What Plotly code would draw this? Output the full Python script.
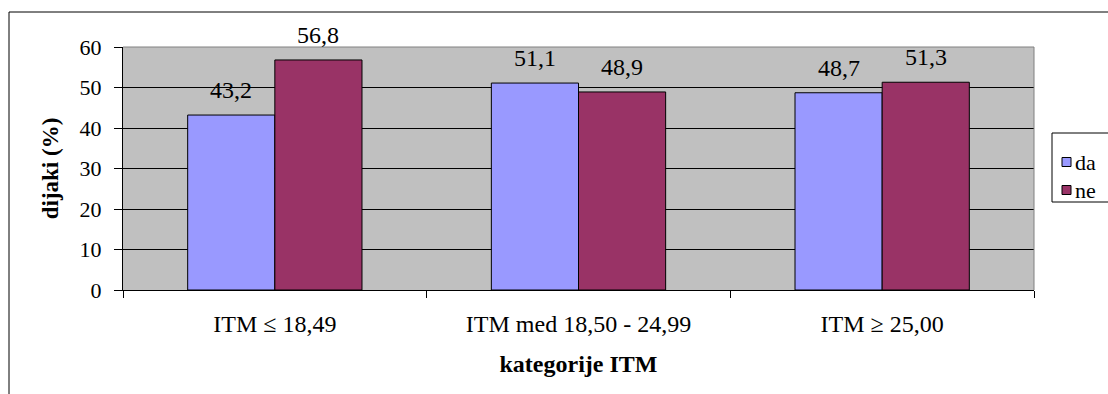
import plotly.graph_objects as go

categories = ["ITM ≤ 18,49", "ITM med 18,50 - 24,99", "ITM ≥ 25,00"]
da_values = [43.2, 51.1, 48.7]
ne_values = [56.8, 48.9, 51.3]
y_ticks = [0, 10, 20, 30, 40, 50, 60]
series = [("da", da_values, "#9999FF"), ("ne", ne_values, "#993366")]

FONT = "'Times New Roman', 'Liberation Serif', 'DejaVu Serif', serif"

# plot area in pixels
L, R, T, B = 123, 1034, 47, 290
W, H = 1108, 394
BAR_PX = 87  # rendered width of one bar


def px_x(px):
    return (px - L) / (R - L)


def px_y(py):
    return (B - py) / (B - T)


def fmt(v):
    return f"{v:.1f}".replace(".", ",")


fig = go.Figure()
for name, vals, color in series:
    fig.add_trace(go.Bar(
        name=name, x=categories, y=vals,
        marker=dict(color=color, line=dict(color="black", width=1)),
        showlegend=False,
    ))

# value labels above each bar
for i, (name, vals, color) in enumerate(series):
    shift = (i - 0.5) * BAR_PX
    for cat, v in zip(categories, vals):
        fig.add_annotation(
            x=cat, y=v, xref="x", yref="y", text=fmt(v), showarrow=False,
            xshift=shift, yshift=25, yanchor="middle",
            font=dict(family=FONT, size=24, color="black"),
        )

# outer chart frame (runs past the right and bottom edges)
frame = dict(type="line", xref="paper", yref="paper",
             line=dict(color="black", width=1), layer="above")
fig.add_shape(**frame, x0=px_x(9), y0=px_y(12), x1=px_x(W + 20), y1=px_y(12))
fig.add_shape(**frame, x0=px_x(9), y0=px_y(12), x1=px_x(9), y1=px_y(H + 20))
# plot-area border on top and right
fig.add_shape(type="line", xref="paper", yref="paper", x0=0, y0=1, x1=1, y1=1,
              line=dict(color="#808080", width=1))
fig.add_shape(type="line", xref="paper", yref="paper", x0=1, y0=0, x1=1, y1=1,
              line=dict(color="#808080", width=1))

# legend box, cut by the right edge of the chart
fig.add_shape(type="rect", xref="paper", yref="paper",
              x0=px_x(1052), y0=px_y(133), x1=px_x(W + 20), y1=px_y(202),
              line=dict(color="black", width=1), fillcolor="white")
for j, (name, vals, color) in enumerate(series):
    cy = 162 + j * 28
    fig.add_shape(type="rect", xref="paper", yref="paper",
                  x0=px_x(1062), y0=px_y(cy - 4.5), x1=px_x(1071), y1=px_y(cy + 4.5),
                  line=dict(color="black", width=1), fillcolor=color)
    fig.add_annotation(x=px_x(1073), y=px_y(cy), xref="paper", yref="paper",
                       text=name, showarrow=False, xanchor="left", yanchor="middle",
                       font=dict(family=FONT, size=22, color="black"))

fig.update_layout(
    width=W, height=H,
    margin=dict(l=L, r=W - R, t=T, b=H - B),
    paper_bgcolor="white", plot_bgcolor="#C0C0C0",
    barmode="group", bargap=0.426, bargroupgap=0,
    font=dict(family=FONT, size=22, color="black"),
    showlegend=False,
    xaxis=dict(
        showline=True, linecolor="black", linewidth=1,
        ticks="outside", ticklen=7, tickcolor="black",
        tickson="boundaries", showgrid=False,
        tickfont=dict(family=FONT, size=24),
        ticklabelstandoff=12,
        title=dict(text="<b>kategorije ITM</b>", font=dict(family=FONT, size=24), standoff=19),
    ),
    yaxis=dict(
        range=[0, 60], tickvals=y_ticks,
        showline=True, linecolor="black", linewidth=1,
        ticks="outside", ticklen=8, tickcolor="black",
        showgrid=True, gridcolor="black", gridwidth=1,
        zeroline=False,
        tickfont=dict(family=FONT, size=22),
        ticklabelstandoff=8,
        title=dict(text="<b>dijaki (%)</b>", font=dict(family=FONT, size=23), standoff=14),
    ),
)

fig.write_html("out.html")
